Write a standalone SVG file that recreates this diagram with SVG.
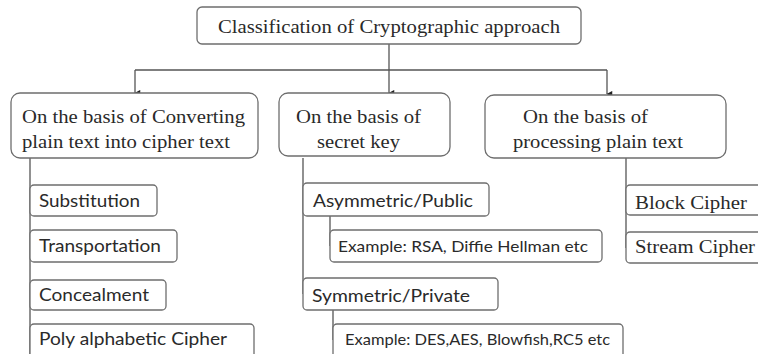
<svg xmlns="http://www.w3.org/2000/svg" width="758" height="354" viewBox="0 0 758 354">
<defs>
<style>
.bg{fill:#fff}
.box{fill:#fff;stroke:#6e6e6e;stroke-width:1.3}
.ser{font-family:"Liberation Serif","Times New Roman",serif;font-size:19px;fill:#2a2a2a}
.san{font-family:Lato,"Liberation Sans",sans-serif;font-size:18px;fill:#2a2a2a}
.sm{font-family:Lato,"Liberation Sans",sans-serif;font-size:15px;fill:#2a2a2a}
.ln{fill:none;stroke:#555;stroke-width:1.3}
</style>
<marker id="arr" viewBox="0 0 8 8" refX="4" refY="7" markerWidth="7" markerHeight="7" orient="auto-start-reverse" markerUnits="userSpaceOnUse">
<path d="M0.5,1 L7.5,1 L4,7.5 Z" fill="#222"/>
</marker>
</defs>
<rect class="bg" x="0" y="0" width="758" height="354"/>
<g id="connectors">
<path class="ln" d="M389,44 V93" marker-end="url(#arr)"/>
<path class="ln" d="M135,70 H607"/>
<path class="ln" d="M135,70 V93" marker-end="url(#arr)"/>
<path class="ln" d="M607,70 V94" marker-end="url(#arr)"/>
<path class="ln" d="M30,158 V354"/>
<path class="ln" d="M303,158 V294"/>
<path class="ln" d="M330,216 V246"/>
<path class="ln" d="M333,310 V340"/>
<path class="ln" d="M626,158 V248"/>
</g>
<g id="root">
<rect class="box" x="197" y="7" width="384" height="37" rx="5"/>
<text class="ser" x="218" y="33" textLength="342" lengthAdjust="spacingAndGlyphs">Classification of Cryptographic approach</text>
</g>
<g id="converting">
<rect class="box" x="11" y="93" width="247" height="65" rx="9"/>
<text class="ser" x="22" y="123" textLength="223" lengthAdjust="spacingAndGlyphs">On the basis of Converting</text>
<text class="ser" x="22" y="148" textLength="208" lengthAdjust="spacingAndGlyphs">plain text into cipher text</text>
</g>
<g id="secretkey">
<rect class="box" x="279" y="93" width="171" height="63" rx="9"/>
<text class="ser" x="296" y="123" textLength="125" lengthAdjust="spacingAndGlyphs">On the basis of</text>
<text class="ser" x="317" y="148" textLength="83" lengthAdjust="spacingAndGlyphs">secret key</text>
</g>
<g id="processing">
<rect class="box" x="485" y="95" width="241" height="63" rx="9"/>
<text class="ser" x="523" y="123" textLength="125" lengthAdjust="spacingAndGlyphs">On the basis of</text>
<text class="ser" x="513" y="148" textLength="170" lengthAdjust="spacingAndGlyphs">processing plain text</text>
</g>
<g id="substitution">
<rect class="box" x="30" y="185" width="127" height="31" rx="4"/>
<text class="san" x="39" y="207" textLength="101" lengthAdjust="spacingAndGlyphs">Substitution</text>
</g>
<g id="transportation">
<rect class="box" x="30" y="230" width="147" height="32" rx="4"/>
<text class="san" x="39" y="252" textLength="122" lengthAdjust="spacingAndGlyphs">Transportation</text>
</g>
<g id="concealment">
<rect class="box" x="30" y="280" width="136" height="30" rx="4"/>
<text class="san" x="39" y="301" textLength="110" lengthAdjust="spacingAndGlyphs">Concealment</text>
</g>
<g id="polyalphabetic">
<rect class="box" x="30" y="324" width="224" height="36" rx="4"/>
<text class="san" x="39" y="345" textLength="188" lengthAdjust="spacingAndGlyphs">Poly alphabetic Cipher</text>
</g>
<g id="asymmetric">
<rect class="box" x="303" y="183" width="186" height="33" rx="4"/>
<text class="san" x="313" y="207" textLength="160" lengthAdjust="spacingAndGlyphs">Asymmetric/Public</text>
</g>
<g id="example-rsa">
<rect class="box" x="330" y="230" width="272" height="32" rx="4"/>
<text class="sm" x="338" y="252" textLength="250" lengthAdjust="spacingAndGlyphs">Example: RSA, Diffie Hellman etc</text>
</g>
<g id="symmetric">
<rect class="box" x="303" y="278" width="195" height="32" rx="4"/>
<text class="san" x="312" y="302" textLength="158" lengthAdjust="spacingAndGlyphs">Symmetric/Private</text>
</g>
<g id="example-des">
<rect class="box" x="333" y="324" width="290" height="36" rx="4"/>
<text class="sm" x="345" y="345" textLength="265" lengthAdjust="spacingAndGlyphs">Example: DES,AES, Blowfish,RC5 etc</text>
</g>
<g id="block">
<rect class="box" x="626" y="185" width="140" height="30" rx="4"/>
<text class="ser" x="635" y="209" textLength="112" lengthAdjust="spacingAndGlyphs">Block Cipher</text>
</g>
<g id="stream">
<rect class="box" x="626" y="232" width="140" height="31" rx="4"/>
<text class="ser" x="635" y="253" textLength="120" lengthAdjust="spacingAndGlyphs">Stream Cipher</text>
</g>
</svg>
